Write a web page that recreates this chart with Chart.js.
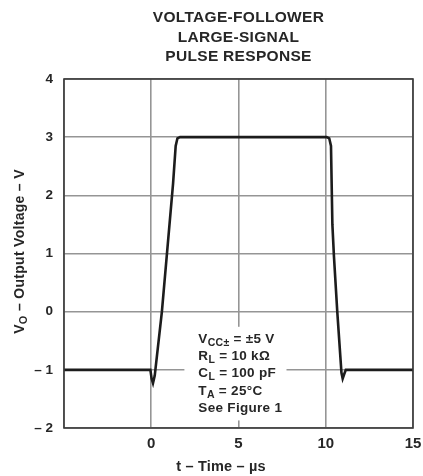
<!DOCTYPE html>
<html>
<head>
<meta charset="utf-8">
<script src="https://cdn.jsdelivr.net/npm/chart.js@4.4.1/dist/chart.umd.min.js"></script>
<style>
html,body{margin:0;padding:0;background:#fff;}
canvas{display:block;}
</style>
</head>
<body>
<canvas id="c" width="423" height="476"></canvas>
<script>
// ---- data ----
const titleLines = ["VOLTAGE-FOLLOWER", "LARGE-SIGNAL", "PULSE RESPONSE"];
const timeUs   = [-5, -0.05, 0.02, 0.1, 0.2, 0.61, 1.25, 1.4, 1.5, 1.65, 10.05, 10.2, 10.3, 10.38, 10.47, 10.66, 10.9, 10.97, 11.05, 11.15, 15];
const voltageV = [-1, -1, -1.15, -1.23, -1.1, 0, 2.2, 2.85, 2.98, 3, 3, 2.98, 2.85, 1.5, 0.95, 0, -1.05, -1.15, -1.08, -1, -1];
const xTicks = [-5, 0, 5, 10, 15];
const yTicks = [-2, -1, 0, 1, 2, 3, 4];
const xAxisTitle = "t – Time – µs";
const yAxisTitleParts = [["V", false], ["O", true], [" – Output Voltage – V", false]];
const conditionLines = [
  [["V", false], ["CC", true], ["±", true], [" = ±5 V", false]],
  [["R", false], ["L", true], [" = 10 kΩ", false]],
  [["C", false], ["L", true], [" = 100 pF", false]],
  [["T", false], ["A", true], [" = 25°C", false]],
  [["See Figure 1", false]]
];

const FONT = '"Liberation Sans", Arial, Helvetica, sans-serif';
const TXT = '#262626';

const points = timeUs.map((t, i) => ({x: t, y: voltageV[i]}));

function drawRich(ctx, parts, x, y, size, subSize, subDrop) {
  let cx = x;
  for (const [s, sub] of parts) {
    ctx.font = 'bold ' + (sub ? subSize : size) + 'px ' + FONT;
    ctx.fillText(s, cx, y + (sub ? subDrop : 0));
    cx += ctx.measureText(s).width;
  }
  return cx - x;
}
function richWidth(ctx, parts, size, subSize) {
  let w = 0;
  for (const [s, sub] of parts) {
    ctx.font = 'bold ' + (sub ? subSize : size) + 'px ' + FONT;
    w += ctx.measureText(s).width;
  }
  return w;
}

const decor = {
  id: 'decor',
  beforeDatasetsDraw(chart) {
    const ctx = chart.ctx, xs = chart.scales.x, ys = chart.scales.y;
    // white box behind the test conditions
    const l = xs.getPixelForValue(1.9), r = xs.getPixelForValue(7.75);
    const t = ys.getPixelForValue(-0.26), b = ys.getPixelForValue(-1.87);
    ctx.save();
    ctx.fillStyle = '#fff';
    ctx.fillRect(l, t, r - l, b - t);
    ctx.restore();
  },
  afterDatasetsDraw(chart) {
    const ctx = chart.ctx, a = chart.chartArea, xs = chart.scales.x, ys = chart.scales.y;
    ctx.save();
    // frame
    ctx.strokeStyle = '#3a3a3a';
    ctx.lineWidth = 1.6;
    ctx.strokeRect(a.left, a.top, a.right - a.left, a.bottom - a.top);
    // title
    ctx.fillStyle = TXT;
    ctx.textAlign = 'center';
    ctx.textBaseline = 'middle';
    ctx.font = 'bold 15.5px ' + FONT;
    ctx.letterSpacing = '0.3px';
    const cxm = (a.left + a.right) / 2;
    titleLines.forEach((s, i) => ctx.fillText(s, cxm, 18 + i * 19.5));
    // x axis title
    ctx.letterSpacing = '0.2px';
    ctx.font = 'bold 14.5px ' + FONT;
    ctx.fillText(xAxisTitle, xs.getPixelForValue(4.0), 467);
    // y axis title (rotated, with subscript)
    ctx.textAlign = 'left';
    ctx.textBaseline = 'alphabetic';
    ctx.translate(24, (a.top + a.bottom) / 2 - 2);
    ctx.rotate(-Math.PI / 2);
    ctx.letterSpacing = '0.3px';
    const w = richWidth(ctx, yAxisTitleParts, 14, 11);
    drawRich(ctx, yAxisTitleParts, -w / 2, 0, 14, 11, 3);
    ctx.setTransform(1, 0, 0, 1, 0, 0);
    // test conditions
    ctx.letterSpacing = '0.3px';
    const lx = xs.getPixelForValue(2.7);
    const by = ys.getPixelForValue(-0.54);
    conditionLines.forEach((parts, i) => drawRich(ctx, parts, lx, by + i * 17.2, 13.5, 10.5, 3));
    ctx.restore();
  }
};

new Chart(document.getElementById('c'), {
  type: 'scatter',
  data: {
    datasets: [{
      data: points,
      showLine: true,
      borderColor: '#1c1c1c',
      borderWidth: 2.6,
      pointRadius: 0,
      tension: 0,
      fill: false
    }]
  },
  options: {
    responsive: false,
    animation: false,
    devicePixelRatio: 1,
    layout: {padding: {left: 0, top: 79, right: 10, bottom: 0}},
    plugins: {legend: {display: false}, tooltip: {enabled: false}, title: {display: false}},
    scales: {
      x: {
        type: 'linear', min: -5, max: 15,
        afterBuildTicks: s => { s.ticks = xTicks.map(v => ({value: v})); },
        afterFit: s => { s.height = 48; s.paddingRight = 0; },
        grid: {color: '#959595', lineWidth: 1.6, drawTicks: false},
        border: {display: false},
        ticks: {
          padding: 7, color: TXT,
          font: {family: FONT, size: 15, weight: 'bold'},
          maxRotation: 0,
          callback: v => v === -5 ? '' : String(v)
        }
      },
      y: {
        type: 'linear', min: -2, max: 4,
        afterBuildTicks: s => { s.ticks = yTicks.map(v => ({value: v})); },
        afterFit: s => { s.width = 64; },
        grid: {color: '#959595', lineWidth: 1.6, drawTicks: false},
        border: {display: false},
        ticks: {
          padding: 11, color: TXT,
          font: {family: FONT, size: 13.5, weight: 'bold'},
          callback: v => v < 0 ? '– ' + Math.abs(v) : String(v)
        }
      }
    }
  },
  plugins: [decor]
});
</script>
</body>
</html>
